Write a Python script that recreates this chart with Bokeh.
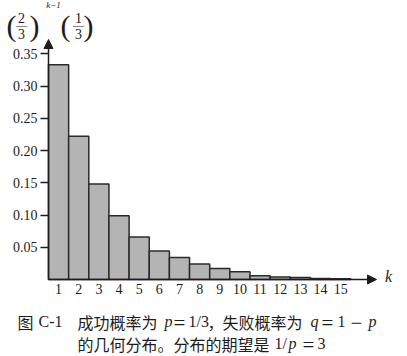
from bokeh.plotting import figure
from bokeh.models import (Range1d, FixedTicker, NumeralTickFormatter, Arrow,
                          NormalHead, Label, LinearAxis)
from bokeh.embed import file_html
from bokeh.resources import INLINE

# data
k_values = list(range(1, 16))
probabilities = [0.333, 0.222, 0.148, 0.099, 0.066, 0.044, 0.034, 0.024,
                 0.017, 0.012, 0.006, 0.004, 0.003, 0.0015, 0.001]
y_ticks = [0.05, 0.10, 0.15, 0.20, 0.25, 0.30, 0.35]
x_ticks = k_values

W, H = 407, 356
axis_px = 48      # pixel x of the y axis
base_py = 279     # pixel y of the baseline
ppx = 20.15       # pixels per k
ppy = 645.0       # pixels per probability unit
x_origin = 0.5

def dx(px):
    return x_origin + (px - axis_px) / ppx

def dy(py):
    return (base_py - py) / ppy

p = figure(width=W, height=H, output_backend="svg", toolbar_location=None,
           x_range=Range1d(dx(0), dx(W)), y_range=Range1d(dy(H), dy(0)),
           min_border_left=0, min_border_right=0,
           min_border_top=0, min_border_bottom=0,
           x_axis_location=None, y_axis_location=None)
p.outline_line_color = None
p.grid.visible = False
p.background_fill_color = "white"
p.border_fill_color = "white"

serif = "Liberation Serif"
cjk = "Noto Sans CJK SC"
ink = "#1c1c1c"

yax = LinearAxis(ticker=FixedTicker(ticks=y_ticks),
                 formatter=NumeralTickFormatter(format="0.00"),
                 fixed_location=x_origin)
yax.axis_line_color = None
yax.major_tick_out = 8
yax.major_tick_in = 0
yax.major_tick_line_width = 1.5
yax.major_tick_line_color = ink
yax.minor_tick_line_color = None
yax.major_label_text_font = serif
yax.major_label_text_font_size = "14px"
yax.major_label_text_color = ink
yax.major_label_standoff = 3
p.add_layout(yax, "left")

xax = LinearAxis(ticker=FixedTicker(ticks=x_ticks), fixed_location=0)
xax.axis_line_color = None
xax.major_tick_out = 0
xax.major_tick_in = 0
xax.minor_tick_line_color = None
xax.major_label_text_font = serif
xax.major_label_text_font_size = "14px"
xax.major_label_text_color = ink
xax.major_label_standoff = 4
p.add_layout(xax, "below")

p.vbar(x=k_values, top=probabilities, width=1.0, bottom=0,
       fill_color="#b4b4b4", line_color="#2a2a2a", line_width=1.5)

# axis arrows
p.add_layout(Arrow(x_start=x_origin, y_start=0, x_end=dx(376), y_end=0,
                   line_width=1.5, line_color=ink,
                   end=NormalHead(size=9, fill_color=ink, line_color=ink)))
p.add_layout(Arrow(x_start=x_origin, y_start=0, x_end=x_origin, y_end=dy(39),
                   line_width=1.5, line_color=ink,
                   end=NormalHead(size=9, fill_color=ink, line_color=ink)))

def lab(px, py, text, size, font=serif, style="normal", align="center"):
    p.add_layout(Label(x=dx(px), y=dy(py), text=text, text_font=font,
                       text_font_size=f"{size}px", text_font_style=style,
                       text_align=align, text_baseline="middle",
                       text_color=ink))

lab(388, 276, "k", 16, style="italic")

# formula (2/3)^(k-1) (1/3)
lab(11, 25, "(", 30)
lab(21, 17, "2", 14)
lab(21, 24, "—", 11)
lab(21, 33, "3", 14)
lab(34, 25, ")", 30)
lab(53, 4, "k−1", 9, style="italic")
lab(65, 25, "(", 30)
lab(78, 17, "1", 14)
lab(78, 24, "—", 11)
lab(78, 33, "3", 14)
lab(88, 25, ")", 30)

# caption, line 1
y1, y2 = 321, 343
lab(17, y1, "图", 16, font=cjk, align="left")
lab(38, y1, "C-1", 16, align="left")
lab(77, y1, "成功概率为", 16, font=cjk, align="left")
lab(164, y1, "p", 16, style="italic", align="left")
lab(179, y1 + 1, "=", 21)
lab(188, y1, "1/3", 16, align="left")
lab(207, y1, "，", 16, font=cjk, align="left")
lab(222, y1, "失败概率为", 16, font=cjk, align="left")
lab(310, y1, "q", 16, style="italic", align="left")
lab(327, y1 + 1, "=", 21)
lab(337, y1, "1", 16, align="left")
lab(356, y1 + 1, "−", 21)
lab(368, y1, "p", 16, style="italic", align="left")

# caption, line 2
lab(77, y2, "的几何分布。分布的期望是", 16, font=cjk, align="left")
lab(274, y2, "1/", 16, align="left")
lab(288, y2, "p", 16, style="italic", align="left")
lab(308, y2 + 1, "=", 21)
lab(317, y2, "3", 16, align="left")

open("out.html", "w").write(file_html(p, INLINE))
